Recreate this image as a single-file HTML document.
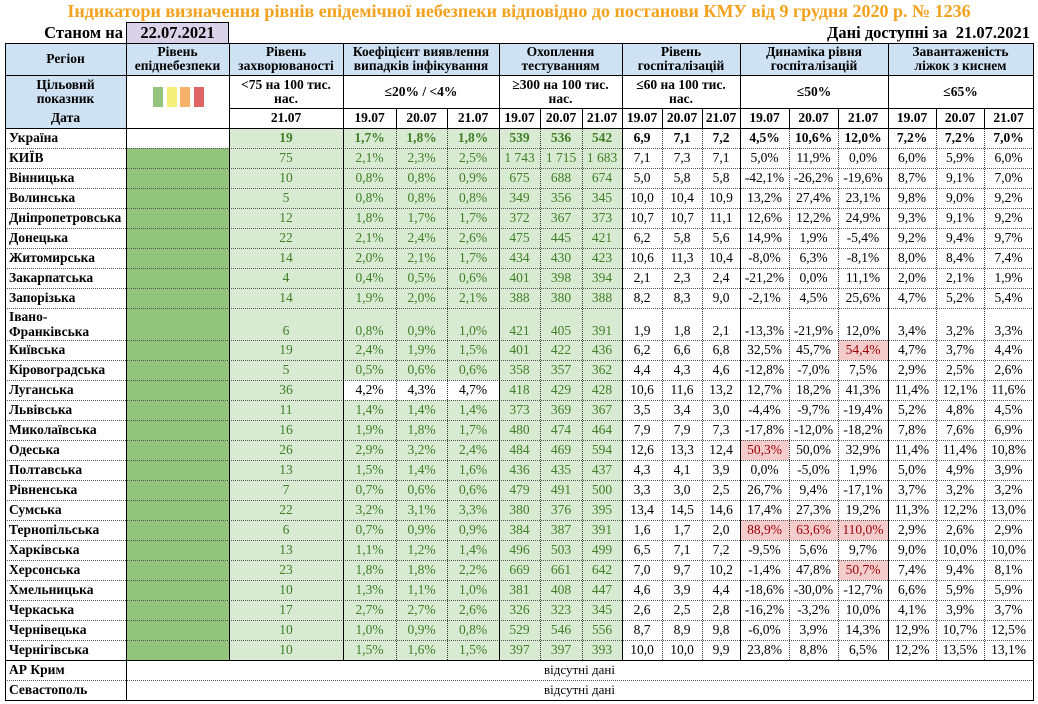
<!DOCTYPE html>
<html><head><meta charset="utf-8">
<style>
body{margin:0;background:#fff;width:1038px;height:704px;position:relative;overflow:hidden;font-family:"Liberation Serif","DejaVu Serif",serif;}
.c{position:absolute;box-sizing:border-box;display:flex;align-items:center;justify-content:center;text-align:center;font-size:13.5px;line-height:14px;color:#000;white-space:nowrap;}
.b{font-weight:bold;}
.l{position:absolute;background:#000;}
.dv{position:absolute;width:0;border-left:1px dotted #333;}
.dh{position:absolute;height:0;border-top:1px dotted #555;}
</style></head><body>
<div style="position:absolute;left:0;top:0;width:1038px;text-align:center;font-weight:bold;font-size:18px;color:#f4a11d;line-height:22px;">Індикатори визначення рівнів епідемічної небезпеки відповідно до постанови КМУ від 9 грудня 2020 р. № 1236</div>
<div style="position:absolute;left:5px;top:23px;width:118px;text-align:right;font-weight:bold;font-size:16.5px;line-height:20px;">Станом на</div>
<div style="position:absolute;left:126px;top:22px;width:103px;height:22px;box-sizing:border-box;border:1px solid #000;background:#d9d2e9;text-align:center;font-weight:bold;font-size:16.5px;line-height:20px;">22.07.2021</div>
<div style="position:absolute;right:8px;top:23px;text-align:right;font-weight:bold;font-size:16.5px;line-height:20px;">Дані доступні за&nbsp; 21.07.2021</div>
<div id="tbl"></div>
<script>
const regions=["Україна","КИЇВ","Вінницька","Волинська","Дніпропетровська","Донецька","Житомирська","Закарпатська","Запорізька","Івано-Франківська","Київська","Кіровоградська","Луганська","Львівська","Миколаївська","Одеська","Полтавська","Рівненська","Сумська","Тернопільська","Харківська","Херсонська","Хмельницька","Черкаська","Чернівецька","Чернігівська"];
const incidence=["19","75","10","5","12","22","14","4","14","6","19","5","36","11","16","26","13","7","22","6","13","23","10","17","10","10"];
const coef=[["1,7%","1,8%","1,8%"],["2,1%","2,3%","2,5%"],["0,8%","0,8%","0,9%"],["0,8%","0,8%","0,8%"],["1,8%","1,7%","1,7%"],["2,1%","2,4%","2,6%"],["2,0%","2,1%","1,7%"],["0,4%","0,5%","0,6%"],["1,9%","2,0%","2,1%"],["0,8%","0,9%","1,0%"],["2,4%","1,9%","1,5%"],["0,5%","0,6%","0,6%"],["4,2%","4,3%","4,7%"],["1,4%","1,4%","1,4%"],["1,9%","1,8%","1,7%"],["2,9%","3,2%","2,4%"],["1,5%","1,4%","1,6%"],["0,7%","0,6%","0,6%"],["3,2%","3,1%","3,3%"],["0,7%","0,9%","0,9%"],["1,1%","1,2%","1,4%"],["1,8%","1,8%","2,2%"],["1,3%","1,1%","1,0%"],["2,7%","2,7%","2,6%"],["1,0%","0,9%","0,8%"],["1,5%","1,6%","1,5%"]];
const testing=[["539","536","542"],["1 743","1 715","1 683"],["675","688","674"],["349","356","345"],["372","367","373"],["475","445","421"],["434","430","423"],["401","398","394"],["388","380","388"],["421","405","391"],["401","422","436"],["358","357","362"],["418","429","428"],["373","369","367"],["480","474","464"],["484","469","594"],["436","435","437"],["479","491","500"],["380","376","395"],["384","387","391"],["496","503","499"],["669","661","642"],["381","408","447"],["326","323","345"],["529","546","556"],["397","397","393"]];
const hosp=[["6,9","7,1","7,2"],["7,1","7,3","7,1"],["5,0","5,8","5,8"],["10,0","10,4","10,9"],["10,7","10,7","11,1"],["6,2","5,8","5,6"],["10,6","11,3","10,4"],["2,1","2,3","2,4"],["8,2","8,3","9,0"],["1,9","1,8","2,1"],["6,2","6,6","6,8"],["4,4","4,3","4,6"],["10,6","11,6","13,2"],["3,5","3,4","3,0"],["7,9","7,9","7,3"],["12,6","13,3","12,4"],["4,3","4,1","3,9"],["3,3","3,0","2,5"],["13,4","14,5","14,6"],["1,6","1,7","2,0"],["6,5","7,1","7,2"],["7,0","9,7","10,2"],["4,6","3,9","4,4"],["2,6","2,5","2,8"],["8,7","8,9","9,8"],["10,0","10,0","9,9"]];
const dyn=[["4,5%","10,6%","12,0%"],["5,0%","11,9%","0,0%"],["-42,1%","-26,2%","-19,6%"],["13,2%","27,4%","23,1%"],["12,6%","12,2%","24,9%"],["14,9%","1,9%","-5,4%"],["-8,0%","6,3%","-8,1%"],["-21,2%","0,0%","11,1%"],["-2,1%","4,5%","25,6%"],["-13,3%","-21,9%","12,0%"],["32,5%","45,7%","54,4%"],["-12,8%","-7,0%","7,5%"],["12,7%","18,2%","41,3%"],["-4,4%","-9,7%","-19,4%"],["-17,8%","-12,0%","-18,2%"],["50,3%","50,0%","32,9%"],["0,0%","-5,0%","1,9%"],["26,7%","9,4%","-17,1%"],["17,4%","27,3%","19,2%"],["88,9%","63,6%","110,0%"],["-9,5%","5,6%","9,7%"],["-1,4%","47,8%","50,7%"],["-18,6%","-30,0%","-12,7%"],["-16,2%","-3,2%","10,0%"],["-6,0%","3,9%","14,3%"],["23,8%","8,8%","6,5%"]];
const beds=[["7,2%","7,2%","7,0%"],["6,0%","5,9%","6,0%"],["8,7%","9,1%","7,0%"],["9,8%","9,0%","9,2%"],["9,3%","9,1%","9,2%"],["9,2%","9,4%","9,7%"],["8,0%","8,4%","7,4%"],["2,0%","2,1%","1,9%"],["4,7%","5,2%","5,4%"],["3,4%","3,2%","3,3%"],["4,7%","3,7%","4,4%"],["2,9%","2,5%","2,6%"],["11,4%","12,1%","11,6%"],["5,2%","4,8%","4,5%"],["7,8%","7,6%","6,9%"],["11,4%","11,4%","10,8%"],["5,0%","4,9%","3,9%"],["3,7%","3,2%","3,2%"],["11,3%","12,2%","13,0%"],["2,9%","2,6%","2,9%"],["9,0%","10,0%","10,0%"],["7,4%","9,4%","8,1%"],["6,6%","5,9%","5,9%"],["4,1%","3,9%","3,7%"],["12,9%","10,7%","12,5%"],["12,2%","13,5%","13,1%"]];
const dates=["19.07","20.07","21.07"];
const missing=["АР Крим","Севастополь"];

const X=[5,126,229,343,396,447,499,540,582,622,662,702,740,789,838,888,936,984,1033];
const GROUP=[0,1,2,3,6,9,12,15,18];
const T=document.getElementById('tbl');
const GBG='#d9ead3',GTX='#3f7f25',LVL='#93c47d',HBG='#cfe2f3';
function num(s){return parseFloat(s.replace(',','.').replace(' ',''));}
function cell(x0,x1,y0,y1,txt,opt){
  const d=document.createElement('div');
  d.className='c'+(opt.bold?' b':'');
  d.style.left=X[x0]+'px';d.style.width=(X[x1]-X[x0])+'px';
  d.style.top=y0+'px';d.style.height=(y1-y0)+'px';
  if(opt.bg)d.style.background=opt.bg;
  if(opt.color)d.style.color=opt.color;
  if(opt.left){d.style.justifyContent='flex-start';d.style.paddingLeft='4px';d.style.textAlign='left';}
  if(opt.wrap){d.style.whiteSpace='normal';}
  if(opt.pad){d.style.padding='0 '+opt.pad+'px';}
  d.innerHTML=txt;
  
  
  T.appendChild(d);return d;
}
function hl(x0,x1,y,dotted){
  const d=document.createElement('div');
  if(dotted){d.className='dh';d.style.top=y+'px';}else{d.className='l';d.style.top=y+'px';d.style.height='1px';}
  d.style.left=X[x0]+'px';d.style.width=(X[x1]-X[x0]+1)+'px';
  
  
  T.appendChild(d);
}
function vl(xi,y0,y1,dotted){
  const d=document.createElement('div');
  if(dotted){d.className='dv';}else{d.className='l';d.style.width='1px';}
  d.style.left=X[xi]+'px';d.style.top=y0+'px';d.style.height=(y1-y0)+'px';
  
  
  T.appendChild(d);
}
const heads=["Регіон","Рівень епіднебезпеки","Рівень захворюваності","Коефіцієнт виявлення випадків інфікування","Охоплення тестуванням","Рівень госпіталізацій","Динаміка рівня госпіталізацій","Завантаженість ліжок з киснем"];
const hx=[[0,1],[1,2],[2,3],[3,6],[6,9],[9,12],[12,15],[15,18]];
heads.forEach((h,i)=>cell(hx[i][0],hx[i][1],43,75,h,{bold:1,bg:HBG,wrap:1,pad:6,name:'column-header'}));
const targets=["<75 на 100 тис. нас.","≤20% / <4%","≥300 на 100 тис. нас.","≤60 на 100 тис. нас.","≤50%","≤65%"];
cell(0,1,75,108,"Цільовий показник",{bold:1,bg:HBG,wrap:1,pad:22,name:'target-label'});
cell(0,1,108,128,"Дата",{bold:1,bg:HBG,name:'date-label'});
const sw=cell(1,2,75,128,'',{name:'level-legend'});
['#93c47d','#f2ef7b','#f6b26b','#e06666'].forEach((c,i)=>{const s=document.createElement('span');s.style.cssText='position:absolute;top:12px;width:10px;height:20px;background:'+c+';left:'+(27+i*13.5)+'px';sw.appendChild(s);});
cell(2,3,75,108,targets[0],{bold:1,wrap:1,pad:6,name:'target-value'});
cell(2,3,108,128,"21.07",{bold:1,name:'date-header'});
[[3,6],[6,9],[9,12],[12,15],[15,18]].forEach((g,i)=>{
  cell(g[0],g[1],75,108,targets[i+1],{bold:1,wrap:1,pad:10,name:'target-value'});
  for(let k=0;k<3;k++)cell(g[0]+k,g[0]+k+1,108,128,dates[k],{bold:1,name:'date-header'});
});
let y=128;const rowY=[];
regions.forEach((r,i)=>{
  const h=(i==9)?32:20;rowY.push([y,y+h]);
  const y0=y,y1=y+h,b=(i==0);
  const nm=cell(0,1,y0,y1,r,{bold:1,left:1,wrap:1,name:'region-name'});
  if(i==9){nm.style.alignItems='flex-start';nm.style.paddingTop='1px';nm.style.lineHeight='15px';}
  cell(1,2,y0,y1,'',{bg:b?null:LVL,name:'danger-level'});
  const put=(xi,v,opt)=>{const c=cell(xi,xi+1,y0,y1,v,opt);if(i==9){c.style.alignItems='flex-end';c.style.paddingBottom='2px';}return c;};
  put(2,incidence[i],{bold:b,bg:GBG,color:GTX,name:'incidence-value'});
  coef[i].forEach((v,k)=>{const hi=num(v)>=4;put(3+k,v,{bold:b,bg:hi?null:GBG,color:hi?'#000':GTX,name:'coef-value'});});
  testing[i].forEach((v,k)=>put(6+k,v,{bold:b,bg:GBG,color:GTX,name:'testing-value'}));
  hosp[i].forEach((v,k)=>put(9+k,v,{bold:b,name:'hosp-value'}));
  dyn[i].forEach((v,k)=>{const hi=num(v)>50;put(12+k,v,{bold:b,bg:hi?'#f4cccc':null,color:hi?'#9c0006':'#000',name:'hosp-dynamics-value'});});
  beds[i].forEach((v,k)=>put(15+k,v,{bold:b,name:'beds-value'}));
  y+=h;
});
const yEnd=y;
missing.forEach((m,i)=>{
  cell(0,1,y+i*20,y+i*20+20,m,{bold:1,left:1,name:'region-name'});
  const c=cell(1,18,y+i*20,y+i*20+20,'відсутні дані',{name:'no-data'});c.style.fontSize='13px';
});
hl(0,18,43);hl(0,18,75);hl(2,18,108);hl(0,18,128);
rowY.forEach((r,i)=>{if(i>0)hl(0,18,r[0],true);});
hl(0,18,yEnd);hl(0,18,yEnd+20,true);hl(0,18,yEnd+40);
GROUP.forEach(g=>vl(g,43,yEnd));
for(let xi=3;xi<18;xi++){if(GROUP.indexOf(xi)<0){vl(xi,108,128,false);vl(xi,128,yEnd,true);}}
vl(0,yEnd,yEnd+41);vl(1,yEnd,yEnd+40);vl(18,yEnd,yEnd+41);
</script>
</body></html>
